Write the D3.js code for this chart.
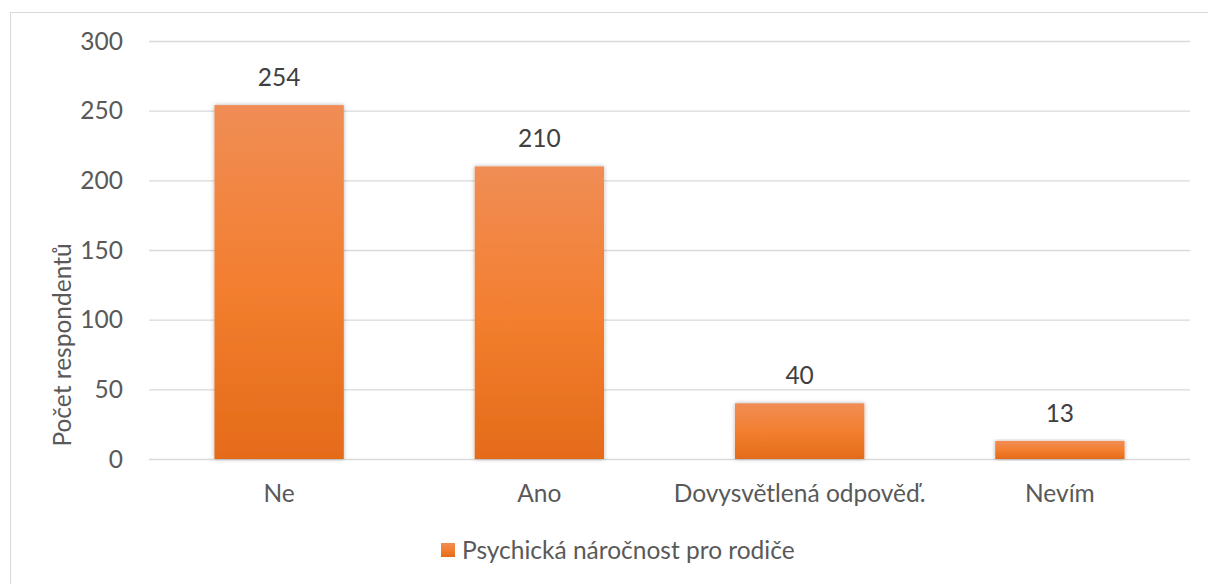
<!DOCTYPE html>
<html>
<head>
<meta charset="utf-8">
<script src="https://cdn.jsdelivr.net/npm/d3@7"></script>
<style>
  body { margin: 0; background: #fff; }
  text { font-family: Lato, "Open Sans", sans-serif; }
</style>
</head>
<body>
<svg class="chart-svg" width="1208" height="584"></svg>
<script>
// Data
var categories = ["Ne", "Ano", "Dovysvětlená odpověď.", "Nevím"];
var values = [254, 210, 40, 13];
var yTicks = [0, 50, 100, 150, 200, 250, 300];
var seriesName = "Psychická náročnost pro rodiče";
var yTitle = "Počet respondentů";

var svg = d3.select(".chart-svg"),
    margin = {top: 41, right: 18, bottom: 125, left: 149},
    width = +svg.attr("width") - margin.left - margin.right,
    height = +svg.attr("height") - margin.top - margin.bottom;

var fontSize = "24.5px";

// Outer chart border
svg.append("rect")
    .attr("x", 10.5).attr("y", 12.5)
    .attr("width", 1220).attr("height", 600)
    .attr("fill", "none")
    .attr("stroke", "#d9d9d9");

// Gradient + shadow for bars
var defs = svg.append("defs");
var grad = defs.append("linearGradient")
    .attr("id", "barGrad")
    .attr("x1", 0).attr("y1", 0).attr("x2", 0).attr("y2", 1);
grad.append("stop").attr("offset", "0%").attr("stop-color", "#f08d55");
grad.append("stop").attr("offset", "50%").attr("stop-color", "#f37f30");
grad.append("stop").attr("offset", "100%").attr("stop-color", "#e46b19");

var shadow = defs.append("filter").attr("id", "barShadow")
    .attr("x", "-10%").attr("y", "-10%").attr("width", "120%").attr("height", "120%");
shadow.append("feDropShadow")
    .attr("dx", 0).attr("dy", 0).attr("stdDeviation", 2)
    .attr("flood-color", "#000").attr("flood-opacity", 0.3);

// Scaling
var x = d3.scaleBand().domain(categories).range([0, width]).paddingInner(0.503).paddingOuter(0.2515),
    y = d3.scaleLinear().domain([0, 300]).range([height, 0]);

var g = svg.append("g")
    .attr("transform", "translate(" + margin.left + "," + margin.top + ")");

// Gridlines
g.selectAll(".grid")
    .data(yTicks)
    .enter().append("line")
    .attr("x1", 0).attr("x2", width)
    .attr("y1", function(d) { return y(d) + 0.5; })
    .attr("y2", function(d) { return y(d) + 0.5; })
    .attr("stroke", "#d9d9d9")
    .attr("stroke-width", 1.3);

// Y tick labels
g.selectAll(".ytick")
    .data(yTicks)
    .enter().append("text")
    .attr("x", -26)
    .attr("y", function(d) { return y(d); })
    .attr("dy", "0.36em")
    .attr("text-anchor", "end")
    .attr("fill", "#595959")
    .style("font-size", fontSize)
    .text(function(d) { return d; });

// Bars
g.selectAll(".bar")
    .data(values)
    .enter().append("rect")
    .attr("x", function(d, i) { return x(categories[i]); })
    .attr("y", function(d) { return y(d); })
    .attr("width", x.bandwidth())
    .attr("height", function(d) { return height - y(d); })
    .attr("fill", "url(#barGrad)")
    .attr("filter", "url(#barShadow)");

// Value labels
g.selectAll(".val")
    .data(values)
    .enter().append("text")
    .attr("x", function(d, i) { return x(categories[i]) + x.bandwidth() / 2; })
    .attr("y", function(d) { return y(d) - 28; })
    .attr("dy", "0.36em")
    .attr("text-anchor", "middle")
    .attr("fill", "#404040")
    .style("font-size", fontSize)
    .text(function(d) { return d; });

// Category labels
g.selectAll(".cat")
    .data(categories)
    .enter().append("text")
    .attr("x", function(d) { return x(d) + x.bandwidth() / 2; })
    .attr("y", height + 34)
    .attr("dy", "0.36em")
    .attr("text-anchor", "middle")
    .attr("fill", "#595959")
    .style("font-size", fontSize)
    .text(function(d) { return d; });

// Y axis title
svg.append("text")
    .attr("transform", "translate(62,345) rotate(-90)")
    .attr("dy", "0.36em")
    .attr("text-anchor", "middle")
    .attr("fill", "#595959")
    .style("font-size", fontSize)
    .text(yTitle);

// Legend
var legend = svg.append("g").attr("transform", "translate(441,543)");
legend.append("rect")
    .attr("width", 14).attr("height", 14)
    .attr("fill", "url(#barGrad)");
legend.append("text")
    .attr("x", 21).attr("y", 7)
    .attr("dy", "0.36em")
    .attr("fill", "#595959")
    .style("font-size", fontSize)
    .text(seriesName);
</script>
</body>
</html>
